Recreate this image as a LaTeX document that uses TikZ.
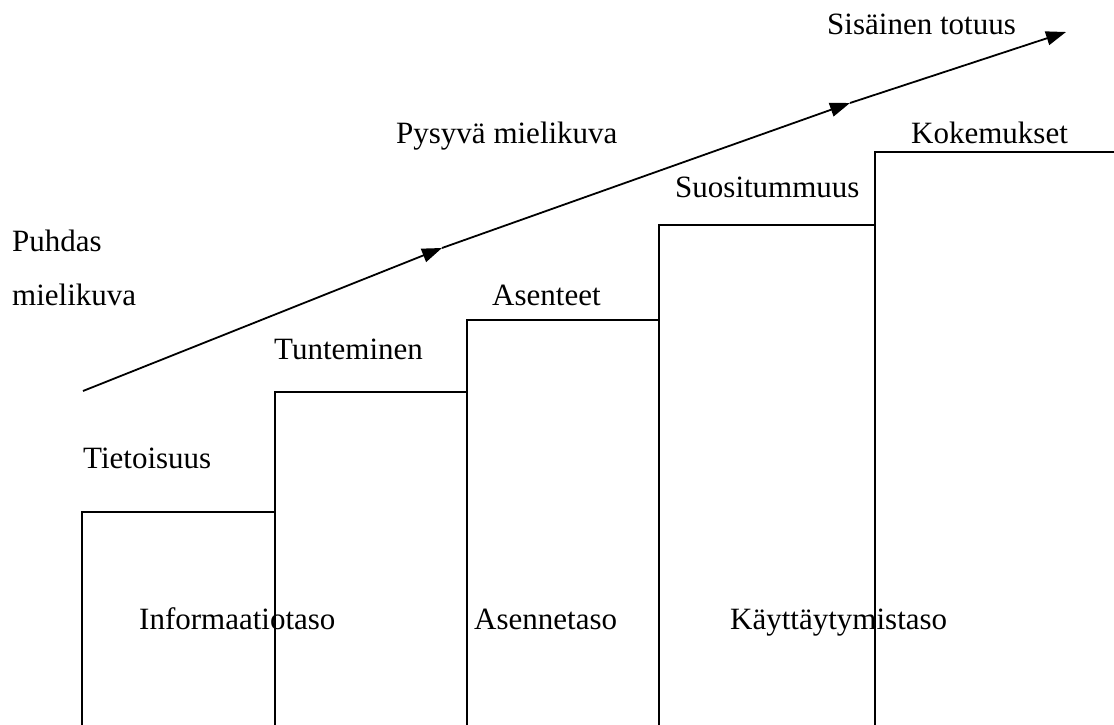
\documentclass[tikz,border=0pt]{standalone}
\usepackage{fontspec}
\setmainfont{Liberation Serif}
\usetikzlibrary{arrows.meta}
\begin{document}
\begin{tikzpicture}[x=1pt,y=-1pt,
  lbl/.style={anchor=base west,inner sep=0pt,font=\fontsize{31}{37}\selectfont},
  stair/.style={line width=1.8pt,line cap=rect},
  flow/.style={line width=1.8pt,-{Triangle[length=20pt,width=14pt]}}]
\useasboundingbox (0,0) rectangle (1114,725);
% stairs
\draw[stair] (82,725) -- (82,512) -- (275,512);
\draw[stair] (275,725) -- (275,392) -- (467,392);
\draw[stair] (467,725) -- (467,320) -- (659,320);
\draw[stair] (659,725) -- (659,225) -- (875,225);
\draw[stair] (875,725) -- (875,152) -- (1114,152);
% arrow path
\coordinate (a0) at (83,391);
\coordinate (a1) at (442,248);
\coordinate (a2) at (850,103);
\coordinate (a3) at (1066,32);
\draw[flow] (a0) -- (a1);
\draw[flow] (a1) -- (a2);
\draw[flow] (a2) -- (a3);
% labels
\node[lbl] (sis) at (827,35) {Sisäinen totuus};
\node[lbl] (pys) at (396,143) {Pysyvä mielikuva};
\node[lbl] (puh1) at (12,251) {Puhdas};
\node[lbl] (puh2) at (12,305) {mielikuva};
\node[lbl] (kok) at (911,143) {Kokemukset};
\node[lbl] (suo) at (675,197) {Suositummuus};
\node[lbl] (ase) at (492,305) {Asenteet};
\node[lbl] (tun) at (274,359) {Tunteminen};
\node[lbl] (tie) at (83,468) {Tietoisuus};
\node[lbl] (inf) at (139,629) {Informaatiotaso};
\node[lbl] (asn) at (474,629) {Asennetaso};
\node[lbl] (kay) at (730,629) {Käyttäytymistaso};
\end{tikzpicture}
\end{document}
